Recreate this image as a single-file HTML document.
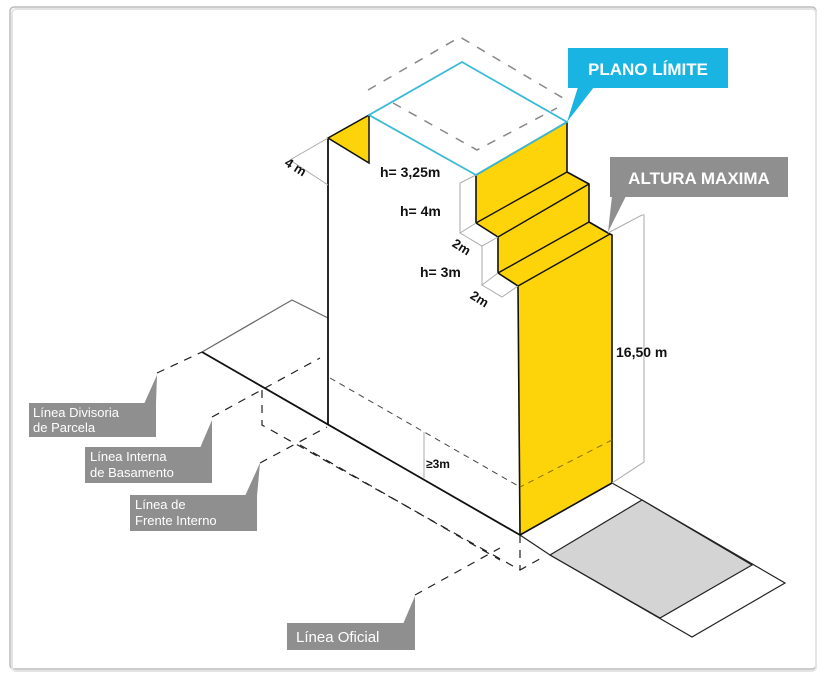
<!DOCTYPE html>
<html><head><meta charset="utf-8"><style>
html,body{margin:0;padding:0;background:#fff;}
svg{display:block;font-family:"Liberation Sans",sans-serif;}
</style></head><body>
<svg width="828" height="678" viewBox="0 0 828 678" xmlns="http://www.w3.org/2000/svg">
<rect x="0" y="0" width="828" height="678" fill="#fff"/>
<rect x="10" y="7" width="806" height="662" rx="4" fill="#fff" stroke="#bbb" stroke-width="1.5"/>
<rect x="12" y="9" width="804" height="662" rx="4" fill="none" stroke="#e4e4e4" stroke-width="2"/>

<!-- parcel left -->
<polyline points="202,352 292,300 328,318" fill="none" stroke="#666" stroke-width="1.2"/>
<!-- sidewalk -->
<polygon points="612,483 642,500 785,583 692,637 550,555 520,535" fill="#fff" stroke="#222" stroke-width="1.2"/>
<polygon points="550,555 642,500 752,565 660,618" fill="#d4d4d4" stroke="#222" stroke-width="1.2"/>

<!-- dashed lines ground -->
<g stroke="#222" stroke-width="1.2" stroke-dasharray="8,7" fill="none">
<line x1="157" y1="373" x2="202" y2="352"/>
<line x1="212" y1="417" x2="320" y2="358"/>
<line x1="260" y1="463" x2="327" y2="427"/>
<polyline points="262,390 262,425 520,570 545,556"/>
<line x1="300" y1="445" x2="500" y2="560"/>
<line x1="415" y1="595" x2="500" y2="548"/>
<line x1="520" y1="535" x2="520" y2="570"/>
</g>
<g stroke="#444" stroke-width="1" stroke-dasharray="6,5" fill="none">
<line x1="330" y1="378" x2="520" y2="487"/>
<line x1="520" y1="487" x2="612" y2="435"/>
</g>

<!-- base line -->
<line x1="202" y1="352" x2="520" y2="535" stroke="#111" stroke-width="1.8"/>
<!-- left wall -->
<line x1="328" y1="138" x2="328" y2="425" stroke="#111" stroke-width="1.8"/>
<polygon points="328,138 369,115 369,163" fill="#fdd40a" stroke="#111" stroke-width="1.5"/>

<!-- yellow facade -->
<polygon points="476,175 567,122 567,172 589,184 589,222 608,233 612,235 612,483 520,535 518,286 498,273 498,237 476,223" fill="#fdd40a" stroke="#111" stroke-width="1.6" stroke-linejoin="round"/>
<polyline points="476,223 567,172" fill="none" stroke="#111" stroke-width="1.4"/>
<polyline points="498,237 589,184" fill="none" stroke="#111" stroke-width="1.4"/>
<polyline points="498,273 589,222" fill="none" stroke="#111" stroke-width="1.4"/>
<polyline points="518,286 610,234" fill="none" stroke="#111" stroke-width="1.4"/>
<line x1="612" y1="440" x2="520" y2="487" stroke="#8a7300" stroke-width="1" stroke-dasharray="6,5"/>

<!-- cyan plane -->
<polygon points="369,115 462,62 567,122 476,175" fill="none" stroke="#3bbad6" stroke-width="1.8"/>
<g stroke="#888" stroke-width="1.5" stroke-dasharray="9,9" fill="none">
<polyline points="368,90 460,37 563,98"/>
<polyline points="393,103 477,150 557,108"/>
</g>

<!-- dims gray -->
<g stroke="#aaa" stroke-width="1" fill="none">
<polyline points="328,138 290,160 328,185"/>
<polyline points="476,175 460,183 460,233 476,223"/>
<polyline points="460,233 482,246 498,237"/>
<polyline points="482,246 482,285 498,273"/>
<polyline points="482,285 502,297 518,286"/>
<polyline points="608,233 642,215 644,215 644,462 612,483"/>
<line x1="424" y1="432" x2="424" y2="478"/>
</g>

<!-- texts -->
<g font-weight="bold" fill="#111">
<text x="282" y="169" font-size="13" transform="rotate(32 290 170)">4 m</text>
<text x="380" y="177" font-size="14">h= 3,25m</text>
<text x="400" y="216" font-size="14">h= 4m</text>
<text x="450" y="250" font-size="13" transform="rotate(32 458 250)">2m</text>
<text x="420" y="277" font-size="14">h= 3m</text>
<text x="468" y="302" font-size="13" transform="rotate(32 476 302)">2m</text>
<text x="616" y="357" font-size="14">16,50 m</text>
<text x="426" y="468" font-size="12">≥3m</text>
</g>

<!-- callouts -->
<rect x="568" y="48" width="160" height="40" fill="#1ab4e3"/>
<polygon points="578,87 594,87 567,122" fill="#1ab4e3"/>
<text x="648" y="75" font-size="17" font-weight="bold" fill="#fff" text-anchor="middle">PLANO LÍMITE</text>

<rect x="610" y="157" width="178" height="40" fill="#8f8f8f"/>
<polygon points="612,196 626,196 608,232" fill="#8f8f8f"/>
<text x="699" y="184" font-size="17" font-weight="bold" fill="#fff" text-anchor="middle">ALTURA MAXIMA</text>

<g fill="#8f8f8f">
<rect x="29" y="403" width="127" height="34"/><polygon points="144,404 156,404 157,375"/>
<rect x="85" y="447" width="127" height="36"/><polygon points="200,448 212,448 212,420"/>
<rect x="130" y="495" width="127" height="36"/><polygon points="245,496 257,496 260,463"/>
<rect x="287" y="623" width="128" height="27"/><polygon points="403,624 415,624 415,596"/>
</g>
<g fill="#fff" font-size="13">
<text x="33" y="417">Línea Divisoria</text><text x="33" y="432">de Parcela</text>
<text x="90" y="461">Línea Interna</text><text x="90" y="477">de Basamento</text>
<text x="135" y="509">Línea de</text><text x="135" y="525">Frente Interno</text>
<text x="296" y="642" font-size="15">Línea Oficial</text>
</g>
</svg>
</body></html>
